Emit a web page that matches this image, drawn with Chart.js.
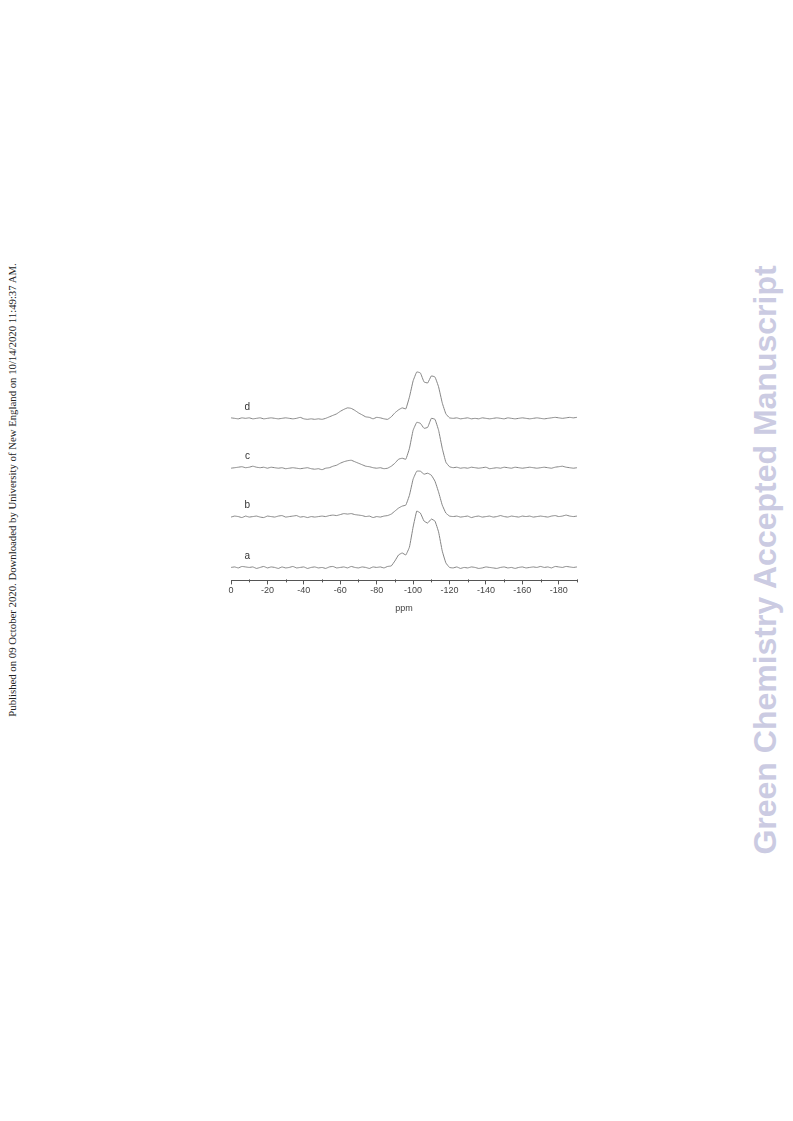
<!DOCTYPE html>
<html>
<head>
<meta charset="utf-8">
<script src="https://cdn.jsdelivr.net/npm/chart.js@4.4.1/dist/chart.umd.min.js"></script>
<style>
    html, body { margin: 0; padding: 0; background: #fff; }
    body { width: 793px; height: 1121px; position: relative; overflow: hidden; }
    #wrap { position: absolute; left: 200px; top: 350px; width: 400px; height: 270px; }
    .side-left {
        position: absolute; left: 12px; top: 490px;
        transform: translate(-50%, -50%) rotate(-90deg);
        font-family: "Liberation Serif", "Times New Roman", serif;
        font-size: 10.75px; color: #222; white-space: nowrap;
    }
    .side-right {
        position: absolute; left: 765px; top: 560px;
        transform: translate(-50%, -50%) rotate(-90deg);
        font-family: "Liberation Sans", Arial, sans-serif; font-weight: bold;
        font-size: 32px; color: #cbcbe2; white-space: nowrap;
    }
</style>
</head>
<body>
<div class="side-left">Published on 09 October 2020. Downloaded by University of New England on 10/14/2020 11:49:37 AM.</div>
<div class="side-right">Green Chemistry Accepted Manuscript</div>
<div id="wrap"><canvas id="nmr"></canvas></div>
<script>
// chemical shift, ppm (2 ppm steps from 0 to -190)
const shifts = [
    0, -2, -4, -6, -8, -10, -12, -14, -16, -18, -20, -22, -24, -26, -28, -30, -32, -34, -36, -38,
    -40, -42, -44, -46, -48, -50, -52, -54, -56, -58, -60, -62, -64, -66, -68, -70, -72, -74, -76, -78,
    -80, -82, -84, -86, -88, -90, -92, -94, -96, -98, -100, -102, -104, -106, -108, -110, -112, -114, -116, -118,
    -120, -122, -124, -126, -128, -130, -132, -134, -136, -138, -140, -142, -144, -146, -148, -150, -152, -154, -156, -158,
    -160, -162, -164, -166, -168, -170, -172, -174, -176, -178, -180, -182, -184, -186, -188, -190
];

// intensities (arbitrary units above its own baseline)
const specA = [
    0.5, 1, 0, 1.5, 1, 0.5, 1, -0.5, 0.5, 1.5, 0, 1, 0.5, -0.5, 1, 0, 0.5, 1.5, 0, 0.5,
    1, -0.5, 0.5, 1, 0, 0.5, -0.5, 1, 1.5, 0, 0.5, 1, 0, 1.5, 0.5, 0, 1, 0.5, -0.5, 1,
    0.5, 1, 0, 1.5, 2, 7, 13, 15, 13, 21, 41, 57, 55, 47, 45, 49, 47, 36, 17, 5,
    0.5, 0, 1, -0.5, 0.5, 0, 1, 0.5, -0.5, 0, 1, 0.5, 0, -0.5, 0.5, 1, 0, 0.5, -0.5, 0.5,
    1, 0, 0.5, 1, 0.5, 1.5, 0.5, 1, 0, 1.5, 1, 0.5, 1.5, 1, 0.5, 1
];
const specB = [
    0, 1, 0.5, -0.5, 1, 0, 0.5, 1, 0, -0.5, 1, 0.5, 0, 1, 1.5, 0, 0.5, 1, 1.5, 0,
    0.5, -0.5, 0.5, 0, 0.5, 1, 0.5, 1.5, 2, 1.5, 2.5, 3.5, 3, 3.5, 2.5, 2, 1.5, 0.5, 1, -0.5,
    0.5, 0, 1, 1.5, 3, 6, 9, 11, 12, 22, 38, 46, 46, 43, 44, 42, 36, 25, 12, 4,
    1, 0.5, 1, 0, 0.5, 1, -0.5, 0.5, 1, 0, 0.5, 1, 0, 0.5, 1.5, 0.5, 0, 1, 0.5, 0,
    1, 0.5, 1, 0, 0.5, 1, 0.5, 0, 1, 1.5, 0.5, 1, 2, 1, 0.5, 1
];
const specC = [
    0, 0.5, 1, 1.5, 0.5, 1, 2, 1, 0.5, 1, 0, 1, 0.5, 0, 0.5, -0.5, 0, 0.5, 0, -0.5,
    0, 0.5, -0.5, -1, -0.5, -1.5, 0, 0.5, 2, 3, 5, 6.5, 7.5, 8, 6.5, 5, 3.5, 2, 1.5, 0.5,
    0, 0.5, -0.5, 0, 2, 5, 9, 10, 9, 20, 38, 46, 45, 40, 41, 50, 49, 38, 20, 6,
    1.5, 0.5, 1, 0, 0.5, 0, 1, 0.5, 0, 0.5, 1, -0.5, 0, 0.5, 0, 1, 0.5, 0, 1, 0.5,
    0, 0.5, 1, 0.5, 0, 0.5, 1, 0.5, 0, 1, 1.5, 2, 1, 0.5, 0, 0.5
];
const specD = [
    1, 0.5, 0, 1, 0.5, 1, 0, 0.5, 1, 0, 0.5, 1, 0.5, 0, 0.5, 1, 0.5, 0, 0.5, 1.5,
    0, -0.5, 0, -0.5, 0, -0.5, 0.5, 2, 3.5, 5, 7.5, 9.5, 11, 10.5, 8.5, 6, 4, 2, 1.5, 0,
    1.5, 1, 0, -0.5, 2, 6, 9, 11, 10, 22, 38, 47, 46, 37, 36, 43, 42, 32, 16, 5,
    1, 0.5, 1, 0, 0.5, 1, 0, 0.5, 0, 1, 0.5, 0, 0.5, 1, 0.5, 0, 1, 0.5, 0, 0.5,
    1, 0.5, 0, 0.5, 1, 0.5, 0, 0.5, 1, 1.5, 1, 0.5, 1, 1.5, 1, 1.5
];

const traceNames = ['a', 'b', 'c', 'd'];
const xTicks = [0, -20, -40, -60, -80, -100, -120, -140, -160, -180];

const spectra = [specA, specB, specC, specD];
const offsets = [12.5, 63.5, 112.5, 162];

const datasets = spectra.map((spec, i) => ({
    label: traceNames[i],
    data: spec.map((v, j) => ({ x: shifts[j], y: v + offsets[i] })),
    borderColor: '#858585',
    borderWidth: 1,
    pointRadius: 0,
    tension: 0.1,
    fill: false
}));

// letters next to each trace
const traceLabels = {
    id: 'traceLabels',
    afterDatasetsDraw(chart) {
        const { ctx, scales } = chart;
        ctx.save();
        ctx.font = '10px "Liberation Sans", Arial, sans-serif';
        ctx.fillStyle = '#333';
        ctx.textAlign = 'center';
        ctx.textBaseline = 'middle';
        traceNames.forEach((name, i) => {
            ctx.fillText(name, scales.x.getPixelForValue(-9), scales.y.getPixelForValue(offsets[i] + 12));
        });
        ctx.restore();
    }
};

// short minor ticks between the labelled ones
const minorTicks = {
    id: 'minorTicks',
    afterDraw(chart) {
        const { ctx, scales, chartArea } = chart;
        ctx.save();
        ctx.strokeStyle = '#555';
        ctx.lineWidth = 1;
        for (let v = -10; v >= -190; v -= 20) {
            const px = Math.round(scales.x.getPixelForValue(v)) + 0.5;
            ctx.beginPath();
            ctx.moveTo(px, chartArea.bottom - 1);
            ctx.lineTo(px, chartArea.bottom + 2);
            ctx.stroke();
        }
        ctx.restore();
    }
};

new Chart(document.getElementById('nmr'), {
    type: 'line',
    data: { datasets },
    options: {
        responsive: true,
        maintainAspectRatio: false,
        animation: false,
        layout: { padding: { left: 31, right: 23, top: 11, bottom: 6 } },
        plugins: { legend: { display: false }, tooltip: { enabled: false } },
        scales: {
            x: {
                type: 'linear',
                reverse: true,
                min: -190,
                max: 0,
                afterBuildTicks(axis) {
                    axis.ticks = xTicks.map(v => ({ value: v }));
                },
                border: { display: true, color: '#555', width: 1 },
                grid: { drawOnChartArea: false, drawTicks: true, tickLength: 4, color: '#555' },
                ticks: {
                    autoSkip: false,
                    maxRotation: 0,
                    padding: 1,
                    color: '#444',
                    font: { family: '"Liberation Sans", Arial, sans-serif', size: 9 }
                },
                title: {
                    display: true,
                    text: 'ppm',
                    color: '#444',
                    padding: { top: 6, bottom: 0 },
                    font: { family: '"Liberation Sans", Arial, sans-serif', size: 9 }
                }
            },
            y: {
                display: false,
                min: 0,
                max: 220
            }
        }
    },
    plugins: [traceLabels, minorTicks]
});
</script>
</body>
</html>
